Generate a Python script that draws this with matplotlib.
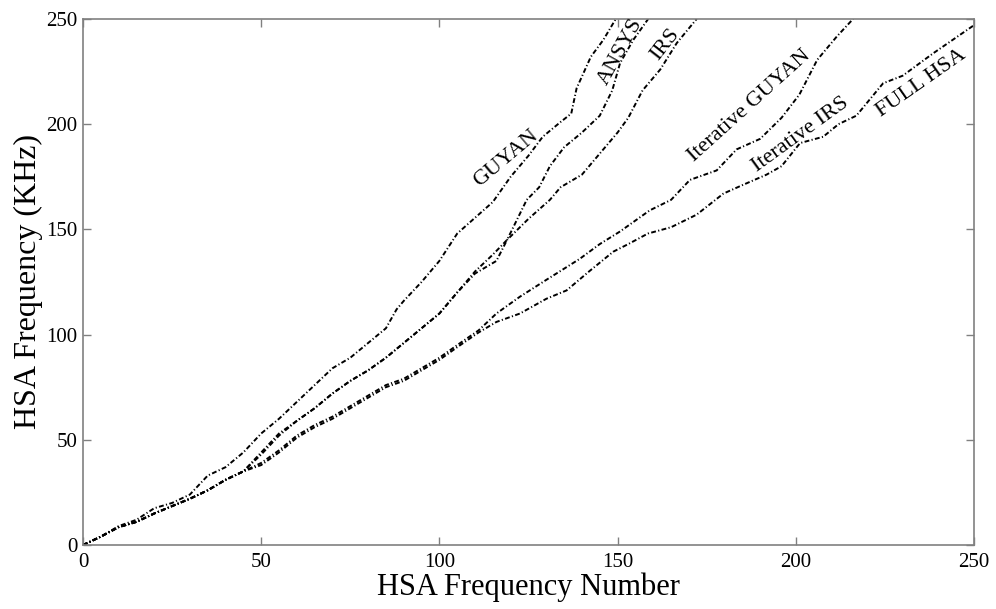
import numpy as np
import matplotlib.pyplot as plt

plt.rcParams['font.family'] = ['Liberation Serif', 'DejaVu Serif']

# shared low-frequency part (all methods nearly coincide)
x_low = [0, 5, 10, 15, 20, 25, 30, 35, 40, 45]
y_low = [0, 4, 8.5, 11, 15, 18.5, 22, 26, 31, 35]

guyan_x = [0, 5, 10, 15, 20, 25, 30, 35, 40, 45, 50, 55, 60, 65, 70, 75, 80, 85, 88, 90,
           95, 100, 105, 111, 115, 120, 125, 129, 134, 137, 138.5, 142.5, 146, 149.5]
guyan_y = [0, 4, 9, 12, 17.5, 20, 24, 33, 37, 44, 53, 60, 68, 76, 84, 89, 96, 103, 112, 116,
           125, 135, 148, 157, 163, 175, 185, 194, 201, 205, 217, 232, 240, 250]

ansys_x = x_low + [50, 55, 60, 65, 70, 75, 80, 85, 90, 95, 100, 105, 110, 115, 119,
                   124.5, 128, 131, 135, 140, 145, 148.5, 150.7, 154.4, 158.6]
ansys_y = y_low + [43, 52, 59, 65, 72, 78, 83, 89, 96, 103, 110, 120, 130, 138, 145,
                   164, 170, 180, 189, 196, 204, 216, 229, 240, 250]

irs_x = x_low + [50, 55, 60, 65, 70, 75, 80, 85, 90, 95, 100, 105, 110, 113, 116, 119,
                 125, 131, 134, 140, 145, 150, 153, 157, 162, 166.6, 172.2]
irs_y = y_low + [44, 53, 59, 65, 72, 78, 83, 89, 96, 103, 110, 120, 129, 132, 135, 145,
                 155, 164, 170, 176, 186, 196, 203, 216, 226, 238.5, 250]

it_guyan_x = x_low + [50, 55, 60, 65, 70, 75, 80, 85, 90, 95, 100, 105, 111, 116, 122.6, 130,
                      139.4, 145, 150.7, 159, 165, 170.3, 177.8, 183.4, 190, 196, 201, 206,
                      211.5, 216.1]
it_guyan_y = y_low + [39, 45, 52, 57, 61, 66, 71, 76, 79, 84, 89, 95, 102, 110, 118, 126,
                      136, 143, 149, 159, 164, 173.5, 178, 188, 193, 203, 214, 230.5,
                      241.6, 250]

it_irs_x = x_low + [50, 55, 60, 65, 70, 75, 80, 85, 90, 95, 100, 105, 111, 116, 122.6, 130,
                    135.7, 142, 148.8, 153, 158.5, 165, 172.2, 179.7, 185, 191.8, 196, 201.2,
                    207.7, 212, 217, 224.5, 230, 238.6, 244, 250]
it_irs_y = y_low + [38, 44, 51, 56, 60, 65, 70, 75, 78, 83, 88, 94, 101, 106, 110, 117,
                    121, 130, 139.4, 143, 148, 151, 157, 167, 171, 176, 180, 191,
                    194, 200, 204, 219.4, 223, 233.7, 240, 247]

# label text, position (data units), rotation
labels = [
    ("GUYAN", 118.8, 183.6, 40),
    ("ANSYS", 150.8, 234.3, 61),
    ("IRS", 163.3, 237.6, 52),
    ("Iterative GUYAN", 187.0, 208.5, 42),
    ("Iterative IRS", 201.3, 195.0, 36),
    ("FULL HSA", 235.1, 219.5, 35),
]

fig = plt.figure(figsize=(9.96, 6.09), dpi=100)
ax = fig.add_axes([0.0833, 0.105, 0.8946, 0.864])

ls = (0, (2.5, 1.2, 0.6, 1.2))
for xs, ys in [(guyan_x, guyan_y), (ansys_x, ansys_y), (irs_x, irs_y),
               (it_guyan_x, it_guyan_y), (it_irs_x, it_irs_y)]:
    ax.plot(xs, ys, color='black', linestyle=ls, linewidth=1.4)

for txt, lx, ly, rot in labels:
    ax.text(lx, ly, txt, rotation=rot, ha='center', va='center',
            fontsize=16, rotation_mode='anchor')

ax.set_xlim(0, 250)
ax.set_ylim(0, 250)
ax.set_xticks(np.arange(0, 251, 50))
ax.set_yticks(np.arange(0, 251, 50))
ax.tick_params(axis='x', pad=6)
ax.tick_params(direction='in', top=True, right=True, length=6, width=1,
               color='#808080', labelsize=15)
ax.tick_params(axis='y', pad=4)
for s in ax.spines.values():
    s.set_color('#808080')
    s.set_linewidth(1.2)

ax.set_xlabel("HSA Frequency Number", fontsize=22, labelpad=0)
ax.set_ylabel("HSA Frequency (KHz)", fontsize=23, labelpad=2)

fig.savefig("out.png", dpi=100)
